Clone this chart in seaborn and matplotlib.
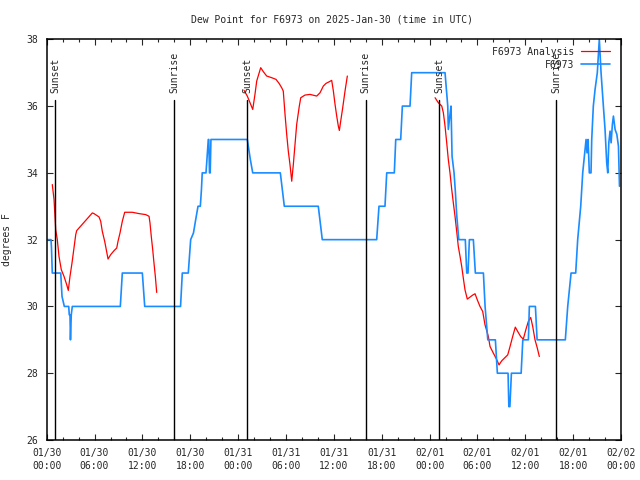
import numpy as np
import pandas as pd
import matplotlib
matplotlib.use("Agg")
import matplotlib.pyplot as plt
import seaborn as sns

# hours since 2025-01-30 00:00 UTC
obs_hours = [0.0, 0.54, 0.60, 0.70, 1.76, 1.92, 2.21, 2.76, 2.83, 2.92, 2.98, 3.08, 3.21,
             9.23, 9.48, 11.99, 12.29, 16.78, 17.0, 17.75, 18.05, 18.4, 18.68, 18.97, 19.26,
             19.4, 19.5, 19.97, 20.06, 20.26, 20.32, 20.41, 20.5, 20.59, 25.15, 25.53, 25.83,
             29.29, 29.79, 34.05, 34.55, 41.37, 41.66, 42.41, 42.63, 43.58, 43.76, 44.38,
             44.59, 45.55, 45.76, 49.94, 50.28, 50.35, 50.56, 50.69, 50.82, 51.07, 51.23,
             51.40, 51.66, 52.48, 52.66, 52.82, 52.99, 53.49, 53.74, 54.75, 54.96, 55.30,
             56.25, 56.50, 57.84, 57.94, 58.07, 58.26, 59.48, 59.69, 60.39, 60.51, 61.27,
             61.48, 65.02, 65.32, 65.74, 66.32, 66.57, 66.95, 67.20, 67.62, 67.74, 67.87,
             68.03, 68.24, 68.33, 68.53, 68.75, 69.03, 69.28, 69.50, 69.79, 70.0, 70.21,
             70.34, 70.47, 70.63, 70.76, 70.92, 71.05, 71.26, 71.48, 71.68, 71.81]
obs_dewpt = [32, 32, 31.75, 31, 31, 30.3, 30, 30, 29.75, 29.75, 29, 29.75, 30,
             30, 31, 31, 30, 30, 31, 31, 32, 32.2, 32.6, 33, 33,
             33.5, 34, 34, 34.3, 35, 35, 34, 34, 35, 35, 34.4, 34,
             34, 33, 33, 32, 32, 33, 33, 34, 34, 35, 35,
             36, 36, 37, 37, 36, 35.3, 35.75, 36, 34.5, 34, 33.45,
             32.75, 32, 32, 31, 31, 32, 32, 31, 31, 30, 29,
             29, 28, 28, 27, 27, 28, 28, 29, 29, 30, 30,
             29, 29, 30, 31, 31, 32, 33, 34, 35, 34.6, 35,
             34, 34, 35, 36, 36.5, 37, 38, 37, 36, 35.3, 34.3,
             34, 34.9, 35.25, 34.9, 35.45, 35.7, 35.3, 35.15, 34.8, 33.6]

ana1_hours = [0.70, 0.92, 1.13, 1.33, 1.54, 1.83, 2.17, 2.51, 2.71, 2.92, 3.17, 3.42, 3.64,
              3.76, 5.72, 5.93, 6.56, 6.77, 6.97, 7.27, 7.47, 7.69, 8.02, 8.44, 8.78, 8.94,
              9.19, 9.48, 9.78, 10.73, 11.57, 12.41, 12.83, 12.95, 13.11, 13.29, 13.45,
              13.62, 13.79]
ana1_dewpt = [33.65, 33.2, 32.3, 32.0, 31.5, 31.1, 30.9, 30.65, 30.48, 30.9, 31.3, 31.75, 32.15,
              32.27, 32.8, 32.78, 32.68, 32.55, 32.25, 31.95, 31.7, 31.42, 31.55, 31.67, 31.75, 31.95,
              32.2, 32.55, 32.82, 32.82, 32.78, 32.75, 32.7, 32.5, 32.1, 31.7, 31.3,
              30.9, 30.42]
ana2_hours = [24.74, 25.15, 25.49, 25.83, 26.11, 26.33, 26.83, 27.16, 27.58, 28.21, 28.75,
              29.16, 29.46, 29.66, 29.88, 30.09, 30.29, 30.50, 30.72, 30.92, 31.13, 31.34,
              31.67, 31.85, 32.38, 33.01, 33.85, 34.27, 34.68, 35.02, 35.43, 35.73, 35.94,
              36.15, 36.36, 36.56, 36.69, 36.86, 37.11, 37.40, 37.69]
ana2_dewpt = [36.47, 36.3, 36.1, 35.9, 36.35, 36.75, 37.15, 37.03, 36.9, 36.85, 36.8,
              36.67, 36.55, 36.45, 35.75, 35.15, 34.65, 34.25, 33.75, 34.25, 34.85, 35.45,
              36.0, 36.25, 36.33, 36.35, 36.3, 36.4, 36.6, 36.68, 36.73, 36.77, 36.45,
              36.05, 35.7, 35.4, 35.27, 35.55, 35.95, 36.45, 36.9]
ana3_hours = [48.69, 49.10, 49.53, 49.73, 49.94, 50.15, 50.35, 50.56, 50.78, 50.98, 51.19,
              51.40, 51.60, 51.82, 52.03, 52.23, 52.44, 52.73, 53.07, 53.41, 53.70, 53.98,
              54.32, 54.66, 54.95, 55.37, 55.58, 56.0, 56.33, 56.71, 57.04, 57.46, 57.80,
              58.09, 58.42, 58.75, 59.12, 59.42, 59.75, 60.09, 60.38, 60.68, 60.93, 61.22,
              61.51, 61.76]
ana3_dewpt = [36.25, 36.1, 36.0, 35.8, 35.4, 34.9, 34.4, 34.0, 33.5, 33.1, 32.7,
              32.25, 31.8, 31.5, 31.2, 30.85, 30.5, 30.22, 30.28, 30.34, 30.38, 30.2,
              30.0, 29.85, 29.45, 29.1, 28.8, 28.6, 28.45, 28.25, 28.37, 28.47, 28.55,
              28.8, 29.1, 29.38, 29.22, 29.1, 29.02, 29.32, 29.55, 29.67, 29.4, 29.0,
              28.75, 28.5]

sun_hours = [1.04, 15.96, 25.15, 40.0, 49.22, 63.88]
sun_labels = ["Sunset", "Sunrise", "Sunset", "Sunrise", "Sunset", "Sunrise"]

tick_hours = [0, 6, 12, 18, 24, 30, 36, 42, 48, 54, 60, 66, 72]
tick_labels = ["01/30\n00:00", "01/30\n06:00", "01/30\n12:00", "01/30\n18:00",
               "01/31\n00:00", "01/31\n06:00", "01/31\n12:00", "01/31\n18:00",
               "02/01\n00:00", "02/01\n06:00", "02/01\n12:00", "02/01\n18:00",
               "02/02\n00:00"]

sns.set_style("ticks")
plt.rcParams['font.family'] = ['DejaVu Sans Mono']
plt.rcParams['font.size'] = 7

red = "#ff0000"
blue = "#1a8cff"

fig, ax = plt.subplots(figsize=(6.4, 4.8), dpi=100)
fig.subplots_adjust(left=46.7/640, right=621/640, top=1-39.3/480, bottom=1-440/480)

segs = [(ana1_hours, ana1_dewpt), (ana2_hours, ana2_dewpt), (ana3_hours, ana3_dewpt)]
for i, (h, d) in enumerate(segs):
    df = pd.DataFrame({"hour": h, "dewpt": d})
    sns.lineplot(data=df, x="hour", y="dewpt", color=red, lw=0.9, estimator=None, sort=False,
                 ax=ax, label="F6973 Analysis" if i == 0 else None)

obs = pd.DataFrame({"hour": obs_hours, "dewpt": obs_dewpt})
sns.lineplot(data=obs, x="hour", y="dewpt", color=blue, lw=1.2, estimator=None, sort=False,
             ax=ax, label="F6973")

for h, lab in zip(sun_hours, sun_labels):
    ax.plot([h, h], [26, 36.18], color="black", lw=1.0)
    ax.text(h, 36.4, lab, rotation=90, ha="center", va="bottom", fontsize=7)

ax.set_xlim(0, 72)
ax.set_ylim(26, 38)
ax.set_xticks(tick_hours)
ax.set_xticklabels(tick_labels, linespacing=1.35)
ax.set_xticks(np.arange(0, 73, 2), minor=True)
ax.set_yticks([26, 28, 30, 32, 34, 36, 38])
ax.tick_params(which="major", direction="in", length=4, width=0.8, top=True, right=True, pad=6)
ax.tick_params(which="minor", direction="in", length=2.2, width=0.8, top=True, right=False)
ax.tick_params(axis="y", which="minor", left=False, right=False)
for s in ax.spines.values():
    s.set_linewidth(1.1)
    s.set_color("black")

ax.set_xlabel("")
ax.set_ylabel("degrees F", fontsize=7)
ax.yaxis.set_label_coords(-0.060, 0.5)

fig.text(0.519, 1 - 20/480, "Dew Point for F6973 on 2025-Jan-30 (time in UTC)",
         ha="center", va="center", fontsize=7)

ax.legend(loc="upper right", bbox_to_anchor=(1 - 6.5/574, 1 - 2.5/400), frameon=False,
          markerfirst=False, handlelength=2.9, labelspacing=0.3, borderaxespad=0.3,
          borderpad=0.2, handletextpad=0.7, fontsize=7)

fig.savefig("out.png", dpi=100)
